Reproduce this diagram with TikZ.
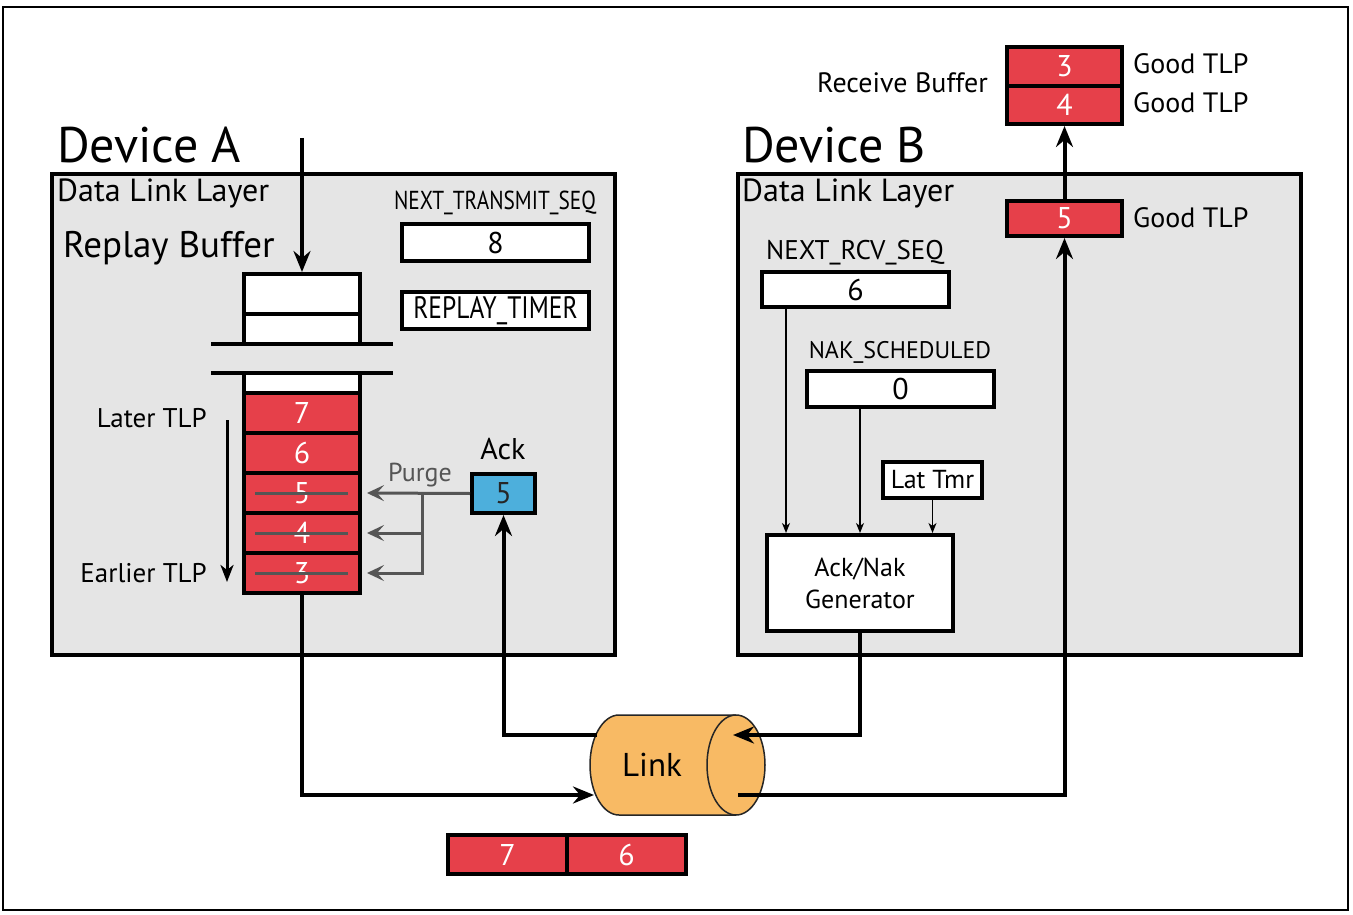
\documentclass[tikz,border=0pt]{standalone}
\usepackage{fontspec}
\setmainfont{PT Sans}
\newfontfamily\condfont[FakeStretch=0.82]{PT Sans}
\usetikzlibrary{arrows.meta}
\definecolor{tlpred}{RGB}{230,64,74}
\definecolor{ackblue}{RGB}{77,175,220}
\definecolor{linkorange}{RGB}{248,186,100}
\definecolor{layergray}{RGB}{229,229,229}
\definecolor{purgegray}{RGB}{85,85,85}
\begin{document}
\begin{tikzpicture}[x=1pt,y=-1pt,
  layer/.style={draw, line width=4pt, fill=layergray, inner sep=0pt, minimum width=563pt, minimum height=481pt},
  regbox/.style={draw, line width=4pt, fill=white, inner sep=0pt, font=\fontsize{30}{30}\selectfont},
  cell/.style={draw, line width=4pt, fill=tlpred, inner sep=0pt, text=white, font=\fontsize{30}{30}\selectfont, minimum width=116pt, minimum height=40pt},
  wcell/.style={draw, line width=4pt, fill=white, inner sep=0pt, minimum width=116pt},
  dev/.style={inner sep=0pt, anchor=base west, font=\fontsize{50}{60}\selectfont},
  lbl/.style={inner sep=0pt, font=\fontsize{28}{34}\selectfont},
  reg/.style={inner sep=0pt, anchor=base},
  mainarrow/.style={line width=4pt, -{Stealth[length=21pt,width=17pt,inset=7pt]}},
  thinarrow/.style={line width=1.5pt, -{Stealth[length=10pt,width=8pt,inset=3pt]}},
  purgearrow/.style={line width=3pt, draw=purgegray, -{Stealth[length=17pt,width=16pt,inset=7pt]}},
  strike/.style={line width=3pt, draw=purgegray}
]
\useasboundingbox (0,0) rectangle (1353,915);
\draw[line width=2.5pt] (3,7) rectangle (1348,910);

% ---------- Device A ----------
\node[dev] (devA) at (57,163) {Device A};
\node[layer] (layA) at (333.5,414.5) {};
\node[lbl, anchor=base west, font=\fontsize{32}{36}\selectfont] (dllA) at (57,201) {Data Link Layer};
\node[lbl, anchor=base west, font=\fontsize{37}{40}\selectfont] (rbuf) at (63,258) {Replay Buffer};

\node[reg, font=\condfont\fontsize{26}{30}\selectfont] (ntsLbl) at (495,209) {NEXT\_TRANSMIT\_SEQ};
\node[regbox, minimum width=187pt, minimum height=37pt] (box8) at (495.5,242.5) {8};
\node[regbox, minimum width=187pt, minimum height=37pt, font=\condfont\fontsize{31}{34}\selectfont] (timer) at (495.5,310.5) {REPLAY\_TIMER};

% replay buffer column
\node[wcell, minimum height=40pt] (rbA) at (302,294) {};
\node[wcell, minimum height=30pt] (rbB) at (302,329) {};
\node[wcell, minimum height=20pt] (rbC) at (302,383) {};
\node[cell] (r7) at (302,413) {7};
\node[cell] (r6) at (302,453) {6};
\node[cell] (r5) at (302,493) {5};
\node[cell] (r4) at (302,533) {4};
\node[cell] (r3) at (302,573) {3};
\coordinate (sepL1) at (211,344);
\coordinate (sepR1) at (393,344);
\coordinate (sepL2) at (211,373);
\coordinate (sepR2) at (393,373);
\draw[line width=4pt] (sepL1) -- (sepR1);
\draw[line width=4pt] (sepL2) -- (sepR2);
\draw[strike] ([xshift=-47pt]r5.center) -- ([xshift=46pt]r5.center);
\draw[strike] ([xshift=-47pt]r4.center) -- ([xshift=46pt]r4.center);
\draw[strike] ([xshift=-47pt]r3.center) -- ([xshift=46pt]r3.center);

% input arrow
\coordinate (inA) at (302,138);
\draw[mainarrow] (inA) -- (rbA.north);

% later / earlier
\node[lbl, anchor=base east, font=\fontsize{27}{30}\selectfont] (later) at (207,427) {Later TLP};
\node[lbl, anchor=base east, font=\fontsize{27}{30}\selectfont] (earlier) at (207,582) {Earlier TLP};
\coordinate (ordTop) at (227,420);
\coordinate (ordBot) at (227,582);
\draw[line width=3pt, -{Stealth[length=17pt,width=13pt,inset=5pt]}] (ordTop) -- (ordBot);

% ack and purge
\node[lbl, font=\fontsize{30}{30}\selectfont] (ackLbl) at (503,449) {Ack};
\node[draw, line width=4pt, fill=ackblue, inner sep=0pt, minimum width=63pt, minimum height=39pt, text=black!85, font=\fontsize{30}{30}\selectfont] (ack) at (503.5,493.5) {5};
\node[lbl, text=purgegray, font=\fontsize{26}{30}\selectfont] (purge) at (420,475) {Purge};
\coordinate (pj) at (422,493);
\draw[purgearrow] (ack.west) -- ([xshift=5pt]r5.east);
\draw[purgearrow] (pj) |- ([xshift=5pt]r4.east);
\draw[purgearrow] (pj) |- ([xshift=5pt]r3.east);

% ---------- Device B ----------
\node[dev] (devB) at (742,163) {Device B};
\node[layer] (layB) at (1019.5,414.5) {};
\node[lbl, anchor=base west, font=\fontsize{32}{36}\selectfont] (dllB) at (742,201) {Data Link Layer};

\node[cell, minimum width=115pt, minimum height=35pt] (rcv5) at (1064.5,218.5) {5};
\node[lbl, anchor=base west] (good5) at (1133,227) {Good TLP};

\node[cell, minimum width=115pt, minimum height=39pt] (rcv3) at (1064.5,66.5) {3};
\node[cell, minimum width=115pt, minimum height=38pt] (rcv4) at (1064.5,105) {4};
\node[lbl, anchor=base west] (good3) at (1133,74) {Good TLP};
\node[lbl, anchor=base west] (good4) at (1133,113) {Good TLP};
\node[lbl, anchor=base east] (rcvLbl) at (988,93) {Receive Buffer};

\node[reg, font=\fontsize{27}{30}\selectfont] (nrsLbl) at (855,259) {NEXT\_RCV\_SEQ};
\node[regbox, minimum width=187pt, minimum height=35pt] (box6) at (855.5,289.5) {6};
\node[reg, font=\fontsize{24}{30}\selectfont] (nakLbl) at (900,358) {NAK\_SCHEDULED};
\node[regbox, minimum width=187pt, minimum height=36pt] (box0) at (900.5,389) {0};
\node[regbox, minimum width=99pt, minimum height=36pt, font=\fontsize{26}{30}\selectfont] (lat) at (932.5,480) {Lat Tmr};
\node[regbox, minimum width=186pt, minimum height=96pt, align=center, font=\fontsize{26}{32}\selectfont] (gen) at (860,583) {Ack/Nak\\Generator};

\coordinate (xa) at (786,0);
\coordinate (xb) at (860,0);
\coordinate (xc) at (932.5,0);
\draw[thinarrow] (box6.south -| xa) -- (gen.north -| xa);
\draw[thinarrow] (box0.south -| xb) -- (gen.north -| xb);
\draw[thinarrow] (lat.south) -- (gen.north -| xc);

% ---------- Link (cylinder) ----------
\path[fill=linkorange, draw=black!85, line width=1.5pt]
  (736,715) -- (619,715) arc[start angle=270, end angle=90, x radius=29, y radius=50] -- (736,815);
\draw[fill=linkorange, draw=black!85, line width=1.5pt] (736,765) ellipse [x radius=29, y radius=50];
\node[lbl, font=\fontsize{33}{36}\selectfont] (linkLbl) at (652,765) {Link};
\coordinate (lkA) at (597,735);
\coordinate (lkIn) at (594,795);
\coordinate (lkB) at (733,735);
\coordinate (lkC) at (738,795);

\draw[mainarrow] (lkA) -| (ack.south);
\draw[mainarrow] (r3.south) |- (lkIn);
\draw[mainarrow] (gen.south) |- (lkB);
\draw[mainarrow] (lkC) -| (rcv5.south);
\draw[mainarrow] (rcv5.north) -- (rcv4.south);

% bottom packets
\node[cell, minimum width=119pt, minimum height=39pt] (b7) at (507.5,854.5) {7};
\node[cell, minimum width=119pt, minimum height=39pt] (b6) at (626.5,854.5) {6};
\end{tikzpicture}
\end{document}
